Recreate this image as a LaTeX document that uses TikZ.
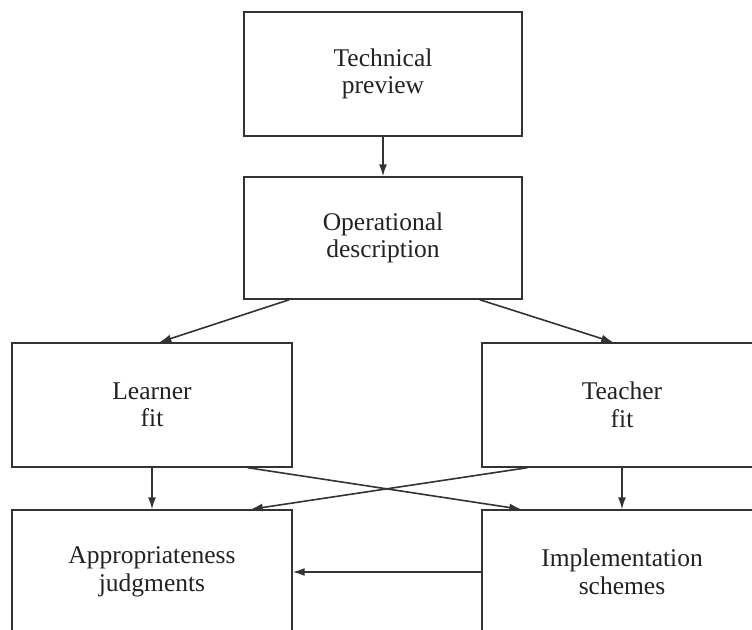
\documentclass[tikz,border=0pt]{standalone}
\usepackage{fontspec}
\setmainfont{Liberation Serif}
\usetikzlibrary{arrows.meta}
\definecolor{ln}{HTML}{333333}
\definecolor{tx}{HTML}{222222}
\tikzset{
  box/.style={draw=ln, line width=1.4pt, rectangle, minimum width=280pt, minimum height=124pt,
    inner sep=0pt, align=center, text=tx, font=\fontsize{25.5}{27.5}\selectfont},
  arr/.style={draw=ln, line width=1.6pt, -{Latex[length=12pt,width=8pt]}}
}
\begin{document}
\begin{tikzpicture}[x=1pt,y=1pt]
\clip (0,0) rectangle (752,-629);
\fill[white] (0,0) rectangle (752,-629);
\node[box, minimum width=278pt, minimum height=124pt] (tp) at (383,-74) {Technical\\preview};
\node[box, minimum width=278pt, minimum height=122pt] (od) at (383,-238) {Operational\\description};
\node[box] (lf) at (152,-405) {Learner\\fit};
\node[box] (tf) at (622,-405) {Teacher\\fit};
\node[box] (aj) at (152,-572) {Appropriateness\\judgments};
\node[box] (is) at (622,-572) {Implementation\\schemes};
\draw[arr] (tp.south) -- (od.north);
\draw[arr] ([xshift=46pt]od.south west) -- ([xshift=148pt]lf.north west);
\draw[arr] ([xshift=-43pt]od.south east) -- ([xshift=132pt]tf.north west);
\draw[arr] (lf.south) -- (aj.north);
\draw[arr] (tf.south) -- (is.north);
\draw[arr] ([xshift=-45pt]lf.south east) -- ([xshift=40pt]is.north west);
\draw[arr] ([xshift=46pt]tf.south west) -- ([xshift=-42pt]aj.north east);
\draw[arr] (is.west) -- (aj.east);
\end{tikzpicture}
\end{document}
